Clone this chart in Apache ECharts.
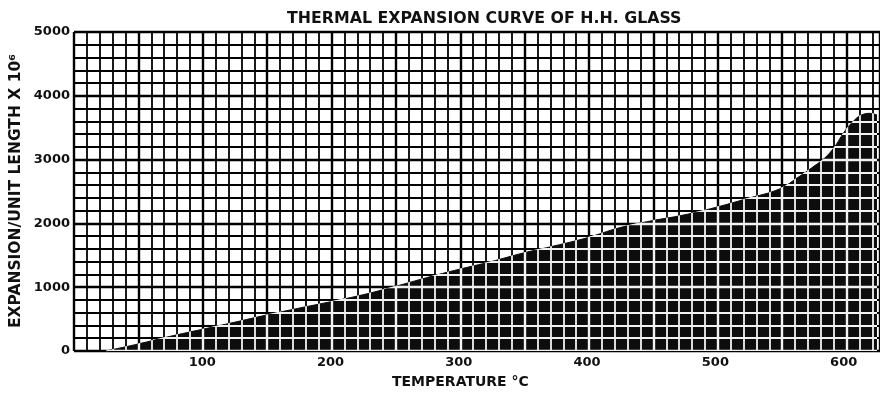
<!DOCTYPE html>
<html>
<head>
<meta charset="utf-8">
<script src="https://cdn.jsdelivr.net/npm/echarts@6/dist/echarts.min.js"></script>
<style>
  html, body { margin: 0; padding: 0; background: #ffffff; }
  #wrap { position: relative; width: 880px; height: 399px; background: #ffffff; overflow: hidden; }
  #base, #gridlayer { position: absolute; left: 0; top: 0; width: 880px; height: 399px; }
  #gridlayer { mix-blend-mode: difference; pointer-events: none; }
</style>
</head>
<body>
<div id="wrap">
  <div id="base"></div>
  <div id="gridlayer"></div>
</div>
<script>
// ---- data ----
const titleText = 'THERMAL EXPANSION CURVE OF H.H. GLASS';
const xName = 'TEMPERATURE °C';
const yName = 'EXPANSION/UNIT LENGTH X 10⁶';
const temps = [25, 50, 75, 100, 125, 150, 175, 200, 225, 250, 275, 300, 325, 350, 375, 400, 425, 450, 475, 500, 525, 550, 565, 575, 585, 593, 598, 603, 608, 613, 620, 626];
const expansion = [0, 110, 230, 340, 450, 564, 670, 772, 880, 1010, 1150, 1280, 1400, 1535, 1650, 1775, 1930, 2040, 2130, 2250, 2390, 2540, 2730, 2870, 3020, 3200, 3360, 3500, 3610, 3690, 3725, 3700];
const xTickLabels = [100, 200, 300, 400, 500, 600];
const yTickLabels = [0, 1000, 2000, 3000, 4000, 5000];

const xMin = 0, xMax = 626, yMin = 0, yMax = 5000;
const gridBox = { left: 74, right: 0, top: 32, bottom: 48 };
const FONT = '"DejaVu Sans", sans-serif';

// ---- base layer: fill + texts ----
const base = echarts.init(document.getElementById('base'), null, { renderer: 'canvas' });
base.setOption({
  backgroundColor: '#ffffff',
  animation: false,
  title: {
    text: titleText, left: 282, top: 6,
    textStyle: { fontFamily: FONT, fontSize: 15.8, fontWeight: 'bold', color: '#111' }
  },
  grid: gridBox,
  xAxis: {
    type: 'value', min: xMin, max: xMax, interval: 100,
    axisLine: { show: false }, axisTick: { show: false }, splitLine: { show: false },
    axisLabel: {
      margin: 5, fontFamily: FONT, fontSize: 13, fontWeight: 'bold', color: '#111',
      formatter: v => (xTickLabels.indexOf(v) >= 0 ? String(v) : '')
    }
  },
  yAxis: {
    type: 'value', min: yMin, max: yMax, interval: 1000,
    axisLine: { show: false }, axisTick: { show: false }, splitLine: { show: false },
    axisLabel: {
      margin: 4, fontFamily: FONT, fontSize: 13, fontWeight: 'bold', color: '#111',
      formatter: v => (yTickLabels.indexOf(v) >= 0 ? String(v) : '')
    }
  },
  graphic: [
    { type: 'text', left: 392, top: 375,
      style: { text: xName, fontFamily: FONT, fontSize: 14, fontWeight: 'bold', fill: '#111' } },
    { type: 'text', x: 8, y: 328, rotation: Math.PI / 2,
      style: { text: yName, fontFamily: FONT, fontSize: 15.5, fontWeight: 'bold', fill: '#111',
               align: 'left', verticalAlign: 'top' } }
  ],
  series: [{
    type: 'line',
    data: temps.map((t, i) => [t, expansion[i]]),
    showSymbol: false, symbol: 'none',
    smooth: 0.4,
    lineStyle: { color: '#0d0d0d', width: 1 },
    areaStyle: { color: '#0d0d0d', opacity: 1 }
  }]
});

// ---- grid layer: white lines, blended with "difference" ----
const thin = 1.8, thick = 2.4;
function xAx(interval, w) {
  return {
    type: 'value', min: xMin, max: xMax, interval: interval,
    axisLine: { show: false }, axisTick: { show: false }, axisLabel: { show: false },
    splitLine: { show: true, lineStyle: { color: '#ffffff', width: w } }
  };
}
function yAx(interval, w) {
  return {
    type: 'value', min: yMin, max: yMax, interval: interval,
    axisLine: { show: false }, axisTick: { show: false }, axisLabel: { show: false },
    splitLine: { show: true, lineStyle: { color: '#ffffff', width: w } }
  };
}
const gl = echarts.init(document.getElementById('gridlayer'), null, { renderer: 'canvas' });
gl.setOption({
  backgroundColor: 'transparent',
  animation: false,
  grid: gridBox,
  xAxis: [xAx(10, thin), xAx(50, thick)],
  yAxis: [yAx(200, thin), yAx(1000, thick)],
  series: []
});
</script>
</body>
</html>
